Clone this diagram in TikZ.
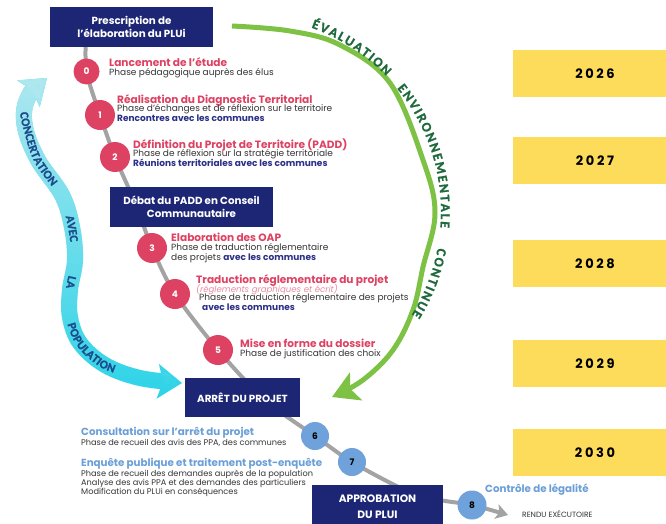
\documentclass[tikz,border=0pt]{standalone}
\usepackage{fontspec}
\setmainfont{Poppins}
\newfontfamily\calsp[BoldFeatures={FakeBold=1.2}]{Carlito}
\newfontfamily\yearfont[LetterSpace=20]{Poppins}
\usetikzlibrary{arrows.meta,decorations.text,backgrounds,fadings}
\definecolor{navy}{HTML}{1D2675}
\definecolor{pinkc}{HTML}{DE4262}
\definecolor{pinkl}{HTML}{E98CA0}
\definecolor{bluec}{HTML}{6FA2DA}
\definecolor{bluet}{HTML}{2B2F86}
\definecolor{bluetitle}{HTML}{6A9FD8}
\definecolor{yel}{HTML}{FDDC5C}
\definecolor{greenl}{HTML}{7DC244}
\definecolor{greent}{HTML}{1E6A3C}
\definecolor{cyans}{HTML}{2FD4E8}
\definecolor{cyanp}{HTML}{B0E8F0}
\definecolor{cyant}{HTML}{1B4D8C}
\definecolor{grayl}{HTML}{A3A3A3}
\definecolor{txt}{HTML}{353535}
\newcommand\greenfmt{\calsp\bfseries\fontsize{13.5}{15}\selectfont}
\newcommand\arcword[4]{%
  \xdef\curang{#2}%
  \foreach \ch [count=\i] in {#4}{%
    \pgfmathsetmacro\lw{width("\ch")+#3}%
    \pgfmathsetmacro\cang{\curang-(\lw/2)/196*180/pi}%
    \pgfmathsetmacro\rot{\cang-90}%
    \node[rotate=\rot, anchor=base, inner sep=0pt, text=greent] (#1\i) at ({245+196*cos(\cang)},{212-196*sin(\cang)}) {\ch};%
    \pgfmathsetmacro\nxt{\curang-\lw/196*180/pi}%
    \xdef\curang{\nxt}%
  }%
}
\tikzfading[name=fadedown, top color=transparent!0, bottom color=transparent!100]
\begin{document}
\begin{tikzpicture}[x=1pt,y=-1pt,
  navybox/.style={fill=navy,text=white,font=\bfseries\fontsize{10.3}{13}\selectfont,align=center,inner sep=0pt},
  yearbox/.style={fill=yel,minimum width=164pt,minimum height=47pt,inner sep=0pt,text=black,font=\yearfont\bfseries\fontsize{13}{13}\selectfont},
  pinkdot/.style={circle,fill=pinkc,inner sep=0pt,minimum size=30pt,text=white,font=\bfseries\fontsize{9}{9}\selectfont},
  bluedot/.style={circle,fill=bluec,inner sep=0pt,minimum size=28pt,text=black,font=\bfseries\fontsize{9}{9}\selectfont},
  txtline/.style={anchor=base west,inner sep=0pt},
  ptitle/.style={txtline,text=pinkc,font=\bfseries\fontsize{10.6}{12}\selectfont},
  btitle/.style={txtline,text=bluetitle,font=\bfseries\fontsize{10.3}{12}\selectfont},
  subl/.style={txtline,text=txt,font=\fontsize{9}{10}\selectfont},
  subs/.style={txtline,text=txt,font=\fontsize{8.2}{9}\selectfont},
  subb/.style={txtline,text=bluet,font=\bfseries\fontsize{9}{10}\selectfont},
  subi/.style={txtline,text=pinkl,font=\itshape\fontsize{8.6}{10}\selectfont},
]
\useasboundingbox (0,0) rectangle (666,524);
\clip (0,0) rectangle (666,524);

% year boxes
\node[yearbox] (y2026) at (595,73.5) {2026};
\node[yearbox] (y2027) at (595,160.5) {2027};
\node[yearbox] (y2028) at (595,263.5) {2028};
\node[yearbox] (y2029) at (595,363.5) {2029};
\node[yearbox] (y2030) at (595,452.5) {2030};

% green arc
\draw[greenl, line width=5pt, -{Stealth[length=26pt,width=30pt,inset=6pt]}]
  plot[smooth, tension=0.6] coordinates {(232,26) (290,31) (340,45) (390,83) (423,160) (435,213) (423,267) (413,310) (393,350) (363,380) (332,397)};
{\greenfmt
\arcword{ev}{70.5}{1.8}{É,V,A,L,U,A,T,I,O,N}
\arcword{en}{39.4}{1.8}{E,N,V,I,R,O,N,N,E,M,E,N,T,A,L,E}
\arcword{co}{-10.3}{1.8}{C,O,N,T,I,N,U,E}
}

% cyan double arrow
\draw[cyans, line width=16pt, {Stealth[length=24pt,width=34pt,inset=5pt]}-{Stealth[length=24pt,width=34pt,inset=5pt]}]
  plot[smooth, tension=0.6] coordinates {(47,78) (27,100) (25,127) (38,160) (62,195) (72,227) (75,260) (70,290) (70,317) (80,343) (105,365) (140,378) (182,383)};
\draw[cyanp, line width=16pt, path fading=fadedown, {Stealth[length=24pt,width=34pt,inset=5pt]}-{Stealth[length=24pt,width=34pt,inset=5pt]}]
  plot[smooth, tension=0.6] coordinates {(47,78) (27,100) (25,127) (38,160) (62,195) (72,227) (75,260) (70,290) (70,317) (80,343) (105,365) (140,378) (182,383)};
\path[decorate, decoration={text along path, raise=-4pt, text align={fit to path stretching spaces},
  text={|\calsp\bfseries\fontsize{12}{14}\selectfont\color{cyant}|CONCERTATION AVEC LA POPULATION}}]
  plot[smooth, tension=0.6] coordinates {(24,112) (27,127) (38,160) (62,195) (72,227) (75,260) (70,290) (70,317) (80,343) (100,362) (115,369)};

% navy boxes
\node[navybox, minimum width=163pt, minimum height=40pt] (presc) at (131.5,27) {Prescription de\\l'élaboration du PLUi};
\node[navybox, minimum width=163pt, minimum height=40pt] (debat) at (191.5,207) {Débat du PADD en Conseil\\Communautaire};
\node[navybox, minimum width=115pt, minimum height=39pt] (arret) at (242.5,397.5) {ARRÊT DU PROJET};
\node[navybox, minimum width=131pt, minimum height=43pt, font=\bfseries\fontsize{10.7}{16}\selectfont] (approb) at (377.5,506.5) {APPROBATION\\DU PLUI};

% circles
\node[pinkdot, minimum size=26pt] (c0) at (86.5,71.5) {0};
\node[pinkdot] (c1) at (100,115) {1};
\node[pinkdot] (c2) at (115,157) {2};
\node[pinkdot] (c3) at (152,248) {3};
\node[pinkdot] (c4) at (175,294) {4};
\node[pinkdot] (c5) at (218,350) {5};
\node[bluedot] (c6) at (315,436) {6};
\node[bluedot] (c7) at (352,462) {7};
\node[bluedot, minimum size=29pt] (c8) at (472,505) {8};

% gray connector (behind)
\coordinate (g0) at (86,35);
\coordinate (g1) at (136,205);
\coordinate (g2) at (265,400);
\coordinate (g3) at (405,490);
\coordinate (g4) at (440,500);
\coordinate (gend) at (508,515);
\begin{pgfonlayer}{background}
\fill[white] (0,0) rectangle (666,524);
\draw[grayl, line width=4pt, -{Stealth[length=12pt,width=15pt,inset=3pt]}]
  plot[smooth, tension=0.5] coordinates {(g0) (c0.center) (c1.center) (c2.center) (g1) (c3.center) (c4.center) (c5.center) (g2) (c6.center) (c7.center) (g3) (g4) (c8.center) (gend)};
\end{pgfonlayer}

% texts
\node[ptitle] (t0a) at (109,67) {Lancement de l'étude};
\node[subl] (t0b) at (109,76) {Phase pédagogique auprès des élus};

\node[ptitle] (t1a) at (117,103) {Réalisation du Diagnostic Territorial};
\node[subl] (t1b) at (117,112) {Phase d'échanges et de réflexion sur le territoire};
\node[subb] (t1c) at (117,121.5) {Rencontres avec les communes};

\node[ptitle] (t2a) at (133,148) {Définition du Projet de Territoire (PADD)};
\node[subl] (t2b) at (133,157) {Phase de réflexion sur la stratégie territoriale};
\node[subb] (t2c) at (133,166.5) {Réunions territoriales avec les communes};

\node[ptitle] (t3a) at (171,241.5) {Elaboration des OAP};
\node[subl] (t3b) at (171,250.5) {Phase de traduction réglementaire};
\node[subl] (t3c) at (171,260) {des projets \textcolor{bluet}{\bfseries avec les communes}};

\node[ptitle] (t4a) at (196,283) {Traduction réglementaire du projet};
\node[subi] (t4b) at (196,292) {(réglements graphiques et écrit)};
\node[subl] (t4c) at (199,300.5) {Phase de traduction réglementaire des projets};
\node[subb] (t4d) at (202,310) {avec les communes};

\node[ptitle] (t5a) at (240,347.5) {Mise en forme du dossier};
\node[subl] (t5b) at (240,356.5) {Phase de justification des choix};

\node[btitle] (t6a) at (81,435) {Consultation sur l'arrêt du projet};
\node[subs] (t6b) at (81,445) {Phase de recueil des avis des PPA, des communes};

\node[btitle] (t7a) at (81,466.5) {Enquête publique et traitement post-enquête};
\node[subs] (t7b) at (81,476.5) {Phase de recueil des demandes auprès de la population};
\node[subs] (t7c) at (81,485.5) {Analyse des avis PPA et des demandes des particuliers};
\node[subs] (t7d) at (81,494) {Modification du PLUi en conséquences};

\node[btitle] (t8a) at (485,492) {Contrôle de légalité};
\node[txtline, text=txt, font=\fontsize{7.6}{8}\selectfont] (t8b) at (522,517) {RENDU EXÉCUTOIRE};
\end{tikzpicture}
\end{document}
